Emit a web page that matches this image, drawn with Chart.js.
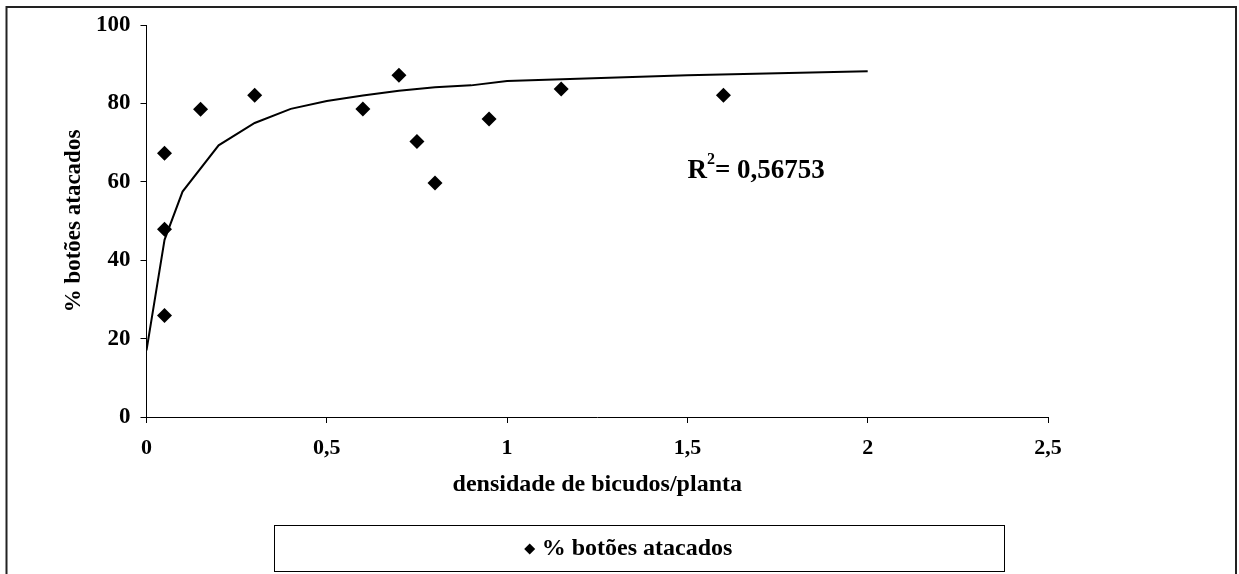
<!DOCTYPE html>
<html lang="pt">
<head>
<meta charset="UTF-8">
<title>% botões atacados x densidade de bicudos</title>
<script src="https://cdn.jsdelivr.net/npm/chart.js"></script>
<style>
  html, body { margin: 0; padding: 0; background: #fff; }
  #wrap { width: 1239px; height: 574px; }
</style>
<script>
  // pontos observados
  const densidade = [0.05, 0.05, 0.05, 0.15, 0.3, 0.6, 0.7, 0.75, 0.8, 0.95, 1.15, 1.6];
  const botoesAtacados = [67.3, 47.9, 25.9, 78.5, 82.1, 78.6, 87.2, 70.3, 59.7, 76.0, 83.7, 82.1];

  // linha de tendência
  const tendX = [0, 0.05, 0.1, 0.2, 0.3, 0.4, 0.5, 0.6, 0.7, 0.8, 0.9, 1, 1.5, 2];
  const tendY = [17, 45.2, 57.5, 69.3, 75, 78.6, 80.6, 82, 83.2, 84.1, 84.6, 85.7, 87.2, 88.2];

  const xTicks = [0, 0.5, 1, 1.5, 2, 2.5];
  const yTicks = [0, 20, 40, 60, 80, 100];
  const r2Texto = '0,56753';

  const serif = '"Liberation Serif", "Times New Roman", serif';

  // moldura, R² e legenda com caixa
  const extras = {
    id: 'extras',
    afterDraw(chart) {
      const ctx = chart.ctx;
      const sx = chart.scales.x, sy = chart.scales.y;
      ctx.save();
      // moldura externa
      ctx.strokeStyle = '#222';
      ctx.lineWidth = 2;
      ctx.strokeRect(6.5, 7, 1229.5, 600);

      // R²
      ctx.fillStyle = '#000';
      ctx.textBaseline = 'alphabetic';
      let x = sx.getPixelForValue(1.5);
      const y = sy.getPixelForValue(61);
      ctx.font = 'bold 27px ' + serif;
      ctx.fillText('R', x, y);
      x += ctx.measureText('R').width;
      ctx.font = 'bold 16px ' + serif;
      ctx.fillText('2', x, y - 14);
      x += ctx.measureText('2').width;
      ctx.font = 'bold 27px ' + serif;
      ctx.fillText('= ' + r2Texto, x, y);

      // legenda
      ctx.lineWidth = 1;
      ctx.strokeStyle = '#000';
      ctx.strokeRect(274.5, 525.5, 730, 46);
      const label = chart.data.datasets[0].label;
      ctx.font = 'bold 24px ' + serif;
      const w = ctx.measureText(label).width;
      const cx = 634;
      const lx = cx - (w + 18) / 2;
      ctx.beginPath();
      ctx.moveTo(lx, 549 - 5.5);
      ctx.lineTo(lx + 5.5, 549);
      ctx.lineTo(lx, 549 + 5.5);
      ctx.lineTo(lx - 5.5, 549);
      ctx.closePath();
      ctx.fill();
      ctx.textBaseline = 'middle';
      ctx.fillText(label, lx + 12, 549);
      ctx.restore();
    }
  };

  window.addEventListener('load', () => {
    const pontos = densidade.map((d, i) => ({x: d, y: botoesAtacados[i]}));
    const tend = tendX.map((d, i) => ({x: d, y: tendY[i]}));

    const config = {
      type: 'scatter',
      data: {
        datasets: [{
          label: '% botões atacados',
          data: pontos,
          pointStyle: 'rectRot',
          pointRadius: 7.5,
          backgroundColor: '#000',
          borderColor: '#000',
          borderWidth: 0
        }, {
          label: 'tendência',
          type: 'line',
          data: tend,
          borderColor: '#000',
          borderWidth: 2,
          pointRadius: 0,
          tension: 0,
          fill: false
        }]
      },
      options: {
        responsive: false,
        animation: false,
        events: [],
        layout: { padding: { left: 10, top: 25, right: 191, bottom: 67 } },
        plugins: {
          legend: { display: false },
          tooltip: { enabled: false }
        },
        scales: {
          x: {
            type: 'linear',
            min: 0, max: 2.5,
            afterBuildTicks: s => { s.ticks = xTicks.map(v => ({value: v})); },
            afterFit: s => { s.height = 90; },
            border: { color: '#000', width: 1 },
            grid: { drawOnChartArea: false, drawTicks: true, tickLength: 6, color: '#000' },
            ticks: {
              color: '#000', padding: 12,
              font: { family: serif, size: 22, weight: 'bold' },
              callback: v => String(v).replace('.', ',')
            },
            title: {
              display: true, text: 'densidade de bicudos/planta', color: '#000',
              font: { family: serif, size: 24, weight: 'bold' },
              padding: { top: 0, bottom: 8 }
            }
          },
          y: {
            min: 0, max: 100,
            afterBuildTicks: s => { s.ticks = yTicks.map(v => ({value: v})); },
            afterFit: s => { s.width = 136.5; },
            border: { color: '#000', width: 1 },
            grid: { drawOnChartArea: false, drawTicks: true, tickLength: 6, color: '#000' },
            ticks: {
              color: '#000', padding: 10,
              font: { family: serif, size: 23, weight: 'bold' }
            },
            title: {
              display: true, text: '% botões atacados', color: '#000',
              font: { family: serif, size: 23, weight: 'bold' },
              padding: { top: 50, bottom: 0 }
            }
          }
        }
      },
      plugins: [extras]
    };

    new Chart(document.getElementById('grafico'), config);
  });
</script>
</head>
<body>
  <div id="wrap">
    <canvas id="grafico" width="1239" height="574"></canvas>
  </div>
</body>
</html>
